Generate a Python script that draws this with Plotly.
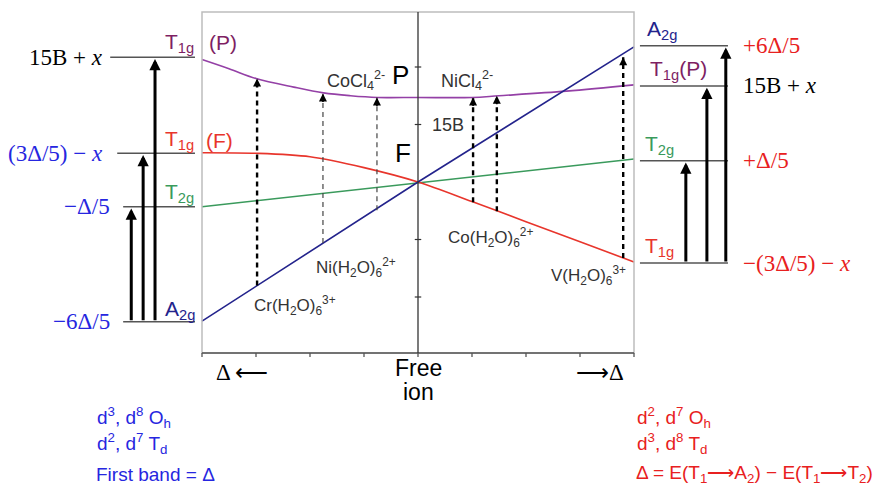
import plotly.graph_objects as go

# ---------------- data ----------------
# x: ligand-field strength (0 = free ion, left and right halves), y: energy
a2g_x = [-4, 0, 4]
a2g_y = [-2.42, 0, 2.35]
t2g_x = [-4, 4]
t2g_y = [-0.43, 0.40]
t1f_x = [-4, -3, -2, -1, 0, 1, 2, 3, 4]
t1f_y = [0.51, 0.50, 0.44, 0.25, 0, -0.34, -0.69, -1.04, -1.39]
t1p_x = [-4, -3.5, -3.0, -2.3, -1.75, -1.25, -0.75, 0, 1.0, 1.5, 2.75, 4]
t1p_y = [2.13, 1.97, 1.80, 1.65, 1.55, 1.50, 1.47, 1.47, 1.47, 1.50, 1.58, 1.69]

# observed transitions of the example complexes
trans_x = [-2.98, -1.76, -0.76, 1.02, 1.46, 3.80]
trans_lo = [-1.80, -1.06, -0.49, -0.35, -0.51, -1.32]
trans_hi = [1.80, 1.54, 1.47, 1.47, 1.50, 2.17]
trans_bold = [True, False, False, True, True, True]

# term ladders beside the diagram
left_levels = [2.17, 0.50, -0.43, -2.43]
left_level_text = ["15B + <i>x</i>", "(3Δ/5) − <i>x</i>", "−Δ/5", "−6Δ/5"]
right_levels = [2.37, 1.67, 0.37, -1.41]
right_level_text = ["+6Δ/5", "15B + <i>x</i>", "+Δ/5", "−(3Δ/5) − <i>x</i>"]

x_ticks = [-4, -3, -2, -1, 0, 1, 2, 3, 4]
y_ticks = [-2, -1, 1, 2]

# ---------------- styling ----------------
SANS = "Liberation Sans, Arial, sans-serif"
SERIF = "Liberation Serif, Times New Roman, serif"
NAVY = "#23238c"
GREEN = "#3a9a5c"
RED = "#e8352c"
PURPLE = "#9440a6"
PLUM = "#7e1f63"
BLUE = "#2626e0"
TXTRED = "#e82020"
GRAY = "#555555"
DARK = "#333333"

X0, X1 = -4, 4
Y0, Y1 = -2.974, 2.957

fig = go.Figure()

# correlation curves
fig.add_trace(go.Scatter(x=t2g_x, y=t2g_y, mode="lines", line=dict(color=GREEN, width=1.5)))
fig.add_trace(go.Scatter(x=t1p_x, y=t1p_y, mode="lines", line=dict(color=PURPLE, width=1.6, shape="spline", smoothing=1.0)))
fig.add_trace(go.Scatter(x=t1f_x, y=t1f_y, mode="lines", line=dict(color=RED, width=1.6, shape="spline", smoothing=0.9)))
fig.add_trace(go.Scatter(x=a2g_x, y=a2g_y, mode="lines", line=dict(color=NAVY, width=1.6)))

annotations = []

# dashed transition arrows
for x, lo, hi, bold in zip(trans_x, trans_lo, trans_hi, trans_bold):
    fig.add_trace(go.Scatter(x=[x, x], y=[lo, hi], mode="lines",
                             line=dict(color="black" if bold else "#444444",
                                       width=2.4 if bold else 1.2, dash="5px,4px")))
    annotations.append(dict(x=x, y=hi, ax=0, ay=10, xref="x", yref="y", text="",
                            showarrow=True, arrowhead=2, arrowwidth=1.6, arrowsize=1.0,
                            arrowcolor="black", standoff=0))

# frame of the diagram
shapes = [
    dict(type="rect", x0=X0, x1=X1, y0=Y0, y1=Y1, xref="x", yref="y",
         line=dict(color="#bdbdbd", width=1.5)),
    dict(type="line", x0=X0, x1=X1, y0=Y0, y1=Y0, xref="x", yref="y",
         line=dict(color=GRAY, width=1.5)),
    dict(type="line", x0=0, x1=0, y0=Y0, y1=Y1, xref="x", yref="y",
         line=dict(color=DARK, width=1.3)),
]
for t in x_ticks:
    shapes.append(dict(type="line", x0=t, x1=t, y0=Y0, y1=Y0 - 0.07, xref="x", yref="y",
                       line=dict(color=GRAY, width=1.3)))
for t in y_ticks:
    shapes.append(dict(type="line", x0=-0.06, x1=0.06, y0=t, y1=t, xref="x", yref="y",
                       line=dict(color=DARK, width=1.2)))

# left ladder
left_start = [-5.70, -5.57, -5.46, -5.46]
for lv, xs in zip(left_levels, left_start):
    shapes.append(dict(type="line", x0=xs, x1=-4.13, y0=lv, y1=lv, xref="x", yref="y",
                       line=dict(color=GRAY, width=1.5)))
# right ladder
for lv in right_levels:
    shapes.append(dict(type="line", x0=4.11, x1=5.74, y0=lv, y1=lv, xref="x", yref="y",
                       line=dict(color=GRAY, width=1.5)))

# solid absorption arrows
for ax_, tip in zip([-5.31, -5.09, -4.87], [left_levels[2], left_levels[1], left_levels[0]]):
    annotations.append(dict(x=ax_, y=tip - 0.03, ax=ax_, ay=left_levels[3], axref="x", ayref="y",
                            xref="x", yref="y", text="", showarrow=True, arrowhead=2,
                            arrowwidth=3, arrowsize=0.75, arrowcolor="black", standoff=0))
for ax_, tip in zip([4.96, 5.35, 5.70], [right_levels[2], right_levels[1], right_levels[0]]):
    annotations.append(dict(x=ax_, y=tip - 0.03, ax=ax_, ay=right_levels[3], axref="x", ayref="y",
                            xref="x", yref="y", text="", showarrow=True, arrowhead=2,
                            arrowwidth=3, arrowsize=0.75, arrowcolor="black", standoff=0))


def label(text, x, y, color, size, family=SANS, xanchor="left", yanchor="middle"):
    annotations.append(dict(x=x, y=y, xref="x", yref="y", text=text, showarrow=False,
                            xanchor=xanchor, yanchor=yanchor,
                            font=dict(color=color, size=size, family=family)))


# left ladder labels
label(left_level_text[0], -5.80, left_levels[0], "black", 23, SERIF, "right")
label(left_level_text[1], -5.80, left_levels[1], BLUE, 23, SERIF, "right")
label(left_level_text[2], -5.67, left_levels[2], BLUE, 23, SERIF, "right")
label(left_level_text[3], -5.67, left_levels[3], BLUE, 23, SERIF, "right")
label("T<sub>1g</sub>", -4.72, 2.42, PLUM, 21)
label("(P)", -3.91, 2.42, PLUM, 21)
label("T<sub>1g</sub>", -4.72, 0.73, RED, 21)
label("(F)", -3.96, 0.73, RED, 21)
label("T<sub>2g</sub>", -4.72, -0.19, GREEN, 21)
label("A<sub>2g</sub>", -4.72, -2.23, NAVY, 21)

# right ladder labels
label("A<sub>2g</sub>", 4.20, 2.64, NAVY, 21)
label("T<sub>1g</sub>(P)", 4.26, 1.95, PLUM, 21)
label("T<sub>2g</sub>", 4.17, 0.64, GREEN, 21)
label("T<sub>1g</sub>", 4.17, -1.13, RED, 21)
label(right_level_text[0], 5.98, right_levels[0], TXTRED, 23, SERIF)
label(right_level_text[1], 5.98, right_levels[1], "black", 23, SERIF)
label(right_level_text[2], 5.98, right_levels[2], TXTRED, 23, SERIF)
label(right_level_text[3], 5.98, right_levels[3], TXTRED, 23, SERIF)

# inside the diagram
label("CoCl<sub>4</sub><sup>2-</sup>", -1.72, 1.77, DARK, 18)
label("P", -0.33, 1.86, "black", 26, xanchor="center")
label("NiCl<sub>4</sub><sup>2-</sup>", 0.38, 1.77, DARK, 18)
label("15B", 0.22, 0.99, DARK, 18)
label("F", -0.28, 0.50, "black", 26, xanchor="center")
label("Ni(H<sub>2</sub>O)<sub>6</sub><sup>2+</sup>", -1.93, -1.48, DARK, 17)
label("Cr(H<sub>2</sub>O)<sub>6</sub><sup>3+</sup>", -3.08, -2.14, DARK, 17)
label("Co(H<sub>2</sub>O)<sub>6</sub><sup>2+</sup>", 0.52, -0.97, DARK, 17)
label("V(H<sub>2</sub>O)<sub>6</sub><sup>3+</sup>", 2.42, -1.62, DARK, 17)
label("Δ ⟵", -3.78, -3.32, "black", 23, SERIF)
label("⟶Δ", 3.85, -3.32, "black", 23, SERIF, "right")
label("Free", 0, -3.23, "black", 23, xanchor="center")
label("ion", 0, -3.65, "black", 23, xanchor="center")

# footnotes
label("d<sup>3</sup>, d<sup>8</sup> O<sub>h</sub>", -5.98, -4.10, BLUE, 19)
label("d<sup>2</sup>, d<sup>7</sup> T<sub>d</sub>", -5.98, -4.54, BLUE, 19)
label("First band = Δ", -6.0, -5.08, BLUE, 19)
label("d<sup>2</sup>, d<sup>7</sup> O<sub>h</sub>", 4.02, -4.10, TXTRED, 19)
label("d<sup>3</sup>, d<sup>8</sup> T<sub>d</sub>", 4.02, -4.54, TXTRED, 19)
label("Δ = E(T<sub>1</sub>⟶A<sub>2</sub>) − E(T<sub>1</sub>⟶T<sub>2</sub>)", 4.0, -5.08, TXTRED, 19)

fig.update_layout(
    width=881, height=500,
    margin=dict(l=0, r=0, t=0, b=0),
    paper_bgcolor="white", plot_bgcolor="white",
    showlegend=False,
    xaxis=dict(range=[-418 / 54, 463 / 54], visible=False, fixedrange=True),
    yaxis=dict(range=[-318 / 57.5, 182 / 57.5], visible=False, fixedrange=True),
    shapes=shapes,
    annotations=annotations,
)

fig.write_html("out.html")
